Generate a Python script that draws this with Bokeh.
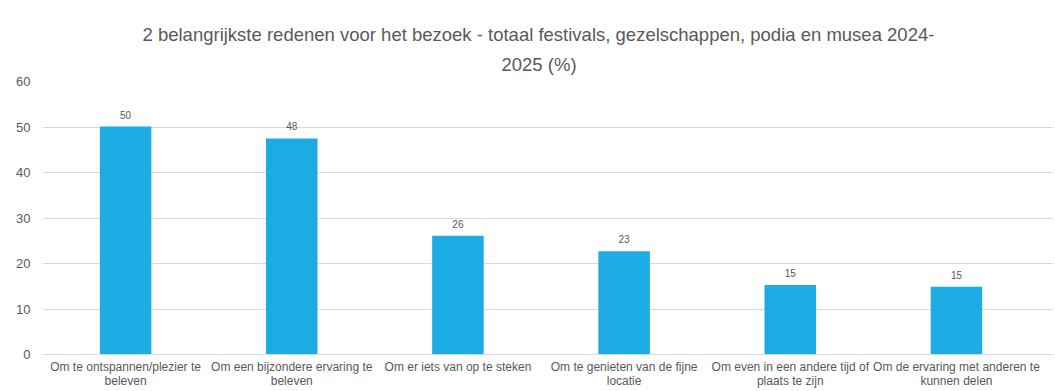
from bokeh.plotting import figure
from bokeh.models import (ColumnDataSource, Range1d, LabelSet, Title,
                          SingleIntervalTicker, FixedTicker)
from bokeh.core.properties import value
from bokeh.embed import file_html
from bokeh.resources import INLINE

categories = [
    "Om te ontspannen/plezier te beleven",
    "Om een bijzondere ervaring te beleven",
    "Om er iets van op te steken",
    "Om te genieten van de fijne locatie",
    "Om even in een andere tijd of plaats te zijn",
    "Om de ervaring met anderen te kunnen delen",
]
tick_labels = [
    "Om te ontspannen/plezier te\nbeleven",
    "Om een bijzondere ervaring te\nbeleven",
    "Om er iets van op te steken",
    "Om te genieten van de fijne\nlocatie",
    "Om even in een andere tijd of\nplaats te zijn",
    "Om de ervaring met anderen te\nkunnen delen",
]
values = [50.1, 47.5, 26.1, 22.7, 15.3, 14.9]
value_labels = ["50", "48", "26", "23", "15", "15"]

title_line1 = "2 belangrijkste redenen voor het bezoek - totaal festivals, gezelschappen, podia en musea 2024-"
title_line2 = "2025 (%)"

FONT = "Liberation Sans"
GREY = "#595959"

pos = list(range(len(categories)))
src = ColumnDataSource(dict(x=pos, cat=categories, val=values, lab=value_labels))

p = figure(
    x_range=Range1d(-0.5, len(categories) - 0.5 + 0.084),
    y_range=Range1d(0, 60),
    width=1055, height=391,
    output_backend="svg", toolbar_location=None,
    min_border_left=42, min_border_right=2, min_border_top=81, min_border_bottom=36,
)
p.title = None
xa = p.below[0]
ya = p.left[0]

p.add_layout(Title(text=title_line2, align="left", offset=459, text_font=FONT,
                   text_font_size="18.5px", text_font_style="normal", text_color=GREY,
                   standoff=14), "above")
p.add_layout(Title(text=title_line1, align="left", offset=100, text_font=FONT,
                   text_font_size="18.5px", text_font_style="normal", text_color=GREY,
                   standoff=0), "above")

p.vbar(x="x", top="val", width=0.31, source=src, color="#1CABE2", line_color=None)

p.add_layout(LabelSet(x="x", y="val", text="lab", source=src, text_align="center",
                      y_offset=8, text_font=value(FONT), text_font_size="10px", text_color=GREY))

p.outline_line_color = None
p.xgrid.grid_line_color = None
p.ygrid.grid_line_color = "#d9d9d9"
ya.ticker = SingleIntervalTicker(interval=10)
ya.axis_line_color = None
ya.major_tick_line_color = None
ya.minor_tick_line_color = None
ya.major_tick_out = 0
ya.major_label_text_font = FONT
ya.major_label_text_font_size = "13px"
ya.major_label_text_color = GREY
ya.major_label_standoff = 8

xa.ticker = FixedTicker(ticks=pos)
xa.axis_line_color = "#d9d9d9"
xa.major_tick_line_color = None
xa.minor_tick_line_color = None
xa.major_tick_out = 0
xa.major_tick_in = 0
xa.major_label_overrides = {i: t for i, t in zip(pos, tick_labels)}
xa.major_label_text_font = FONT
xa.major_label_text_font_size = "12px"
xa.major_label_text_color = GREY
xa.major_label_text_line_height = 1.05
xa.major_label_standoff = 5

open("out.html", "w").write(file_html(p, INLINE))
